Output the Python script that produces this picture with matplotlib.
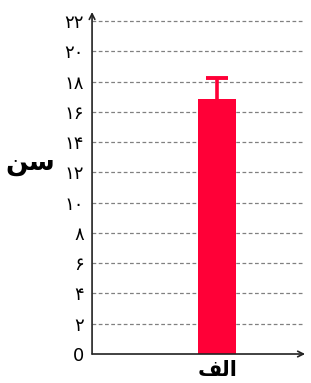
import matplotlib.pyplot as plt
from matplotlib import transforms

# داده‌ها
categories = ["\uFED2\uFEDF\uFE8D"]   # "الف" (visual order, presentation forms)
values = [16.82]
err_upper = [1.43]
ytick_values = [0, 2, 4, 6, 8, 10, 12, 14, 16, 18, 20, 22]
fa_digits = "۰۱۲۳۴۵۶۷۸۹"
ytick_labels = ["0"] + ["".join(fa_digits[int(c)] for c in str(v)) for v in ytick_values[1:]]
ylabel = "\uFEE6\uFEB3"                # "سن"

fig = plt.figure(figsize=(3.11, 3.83), dpi=100)
ax = fig.add_axes([0.296, 0.0757, 0.685, 0.893])

xs = list(range(len(categories)))
ax.bar(xs, values, width=0.6, color="#ff0037", zorder=3)
_, caps, _ = ax.errorbar(xs, values, yerr=[[0] * len(values), err_upper],
                         fmt="none", ecolor="#ff0037", elinewidth=2.6,
                         capsize=8, capthick=2.8, zorder=4)
caps[0].set_visible(False)   # no cap at the bar top

ax.set_xlim(-1.98, 1.39)
ax.set_ylim(0, 22.6)
ax.set_yticks(ytick_values)
ax.set_yticklabels(ytick_labels, fontsize=13, family=["DejaVu Sans"])
ax.set_xticks([])
ax.tick_params(length=0, pad=6)

# category label under the bar
trans = transforms.blended_transform_factory(ax.transData, fig.transFigure)
for i, c in enumerate(categories):
    ax.text(i, 13 / 383, c, transform=trans, fontsize=15, fontweight="bold",
            ha="center", va="center")

for y in ytick_values[1:]:
    ax.axhline(y, color="#808080", lw=0.9, ls=(0, (3, 2)), zorder=1)

for s in ax.spines.values():
    s.set_visible(False)

ax.annotate("", xy=(1.0, 0), xytext=(0, 0), xycoords="axes fraction",
            arrowprops=dict(arrowstyle="->", lw=1.2, color="#222222",
                            shrinkA=0, shrinkB=0))
ax.annotate("", xy=(0, 1.0), xytext=(0, 0), xycoords="axes fraction",
            arrowprops=dict(arrowstyle="->", lw=1.2, color="#222222",
                            shrinkA=0, shrinkB=0))

fig.text(30 / 311, 1 - 163 / 383, ylabel, fontsize=19, fontweight="bold",
         ha="center", va="center")

fig.savefig("out.png", dpi=100)
